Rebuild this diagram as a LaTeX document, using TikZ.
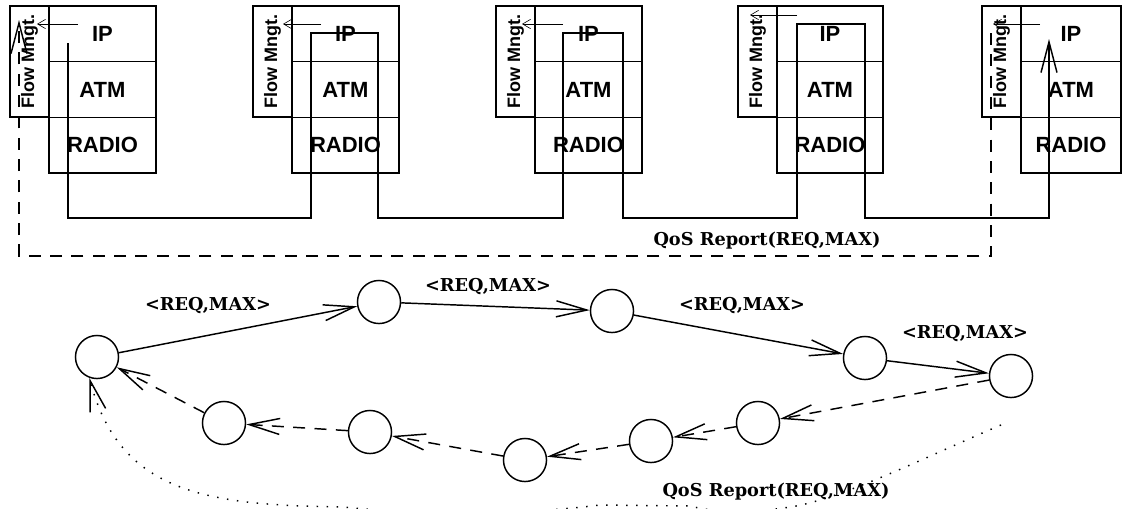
\documentclass[tikz,border=0pt]{standalone}
\usepackage{fontspec}
\newfontfamily\stackfont{Liberation Sans}
\newfontfamily\msgfont{DejaVu Serif}
\usetikzlibrary{arrows.meta,positioning}

\begin{document}
\begin{tikzpicture}[
    x=0.75pt, y=-0.75pt,
    line width=1.1pt,
    layer/.style={draw, outer sep=0pt, inner sep=0pt, minimum height=41.8pt, font=\stackfont\bfseries\fontsize{16.5}{18}\selectfont},
    flowbox/.style={draw, rotate=90, outer sep=0pt, inner sep=0pt, minimum width=83.3pt, minimum height=29.3pt, font=\stackfont\bfseries\fontsize{13.5}{15}\selectfont},
    hop/.style={draw, circle, inner sep=0pt, minimum size=32.3pt},
    msg/.style={font=\msgfont\bfseries\fontsize{13.3}{15}\selectfont},
    flow/.style={-{Straight Barb[length=23pt, width=12pt]}},
    ctrl/.style={-{Straight Barb[length=6pt, width=7pt]}, line width=0.45pt},
    report/.style={flow, dash pattern=on 9pt off 7pt},
    trace/.style={flow, line width=1.1pt, dash pattern=on 1.1pt off 6.4pt}
]
\useasboundingbox (0,0) rectangle (1122,508);

\foreach \n/\x/\w/\a/\b/\y in {1/10/107/78/37/24, 2/253/107/321/283/24, 3/496/107/563/522/24, 4/738/106/797/750/15, 5/982/100/1040/993/24} {
  \node[layer, minimum width=\w*0.75pt, anchor=north west] (ip\n) at (\x+39,6) {IP};
  \node[layer, minimum width=\w*0.75pt, below=0pt of ip\n] (atm\n) {ATM};
  \node[layer, minimum width=\w*0.75pt, below=0pt of atm\n] (radio\n) {RADIO};
  \node[flowbox, anchor=south east] (flow\n) at (ip\n.north west) {Flow Mngt.};
  \coordinate (ctlfrom\n) at (\a,\y);
  \coordinate (ctlto\n) at (\b,\y);
  \draw[ctrl] (ctlfrom\n) -- (ctlto\n);
}

\coordinate (pktsrc) at (68,43);
\coordinate (pktdst) at (1049,39);
\draw[flow] (pktsrc) -- (68,218) -- (311,218) -- (311,33) -- (378,33) -- (378,218) -- (563,218) -- (563,33) -- (623,33) -- (623,218) -- (797,218) -- (797,24) -- (865,24) -- (865,218) -- (1049,218) -- (pktdst);

\coordinate (rptfrom) at (991,33);
\coordinate (rptto) at (19,20);
\draw[report] (rptfrom) -- (991,256) -- (19,256) -- (rptto);
\node[msg] (rpttop) at (767,241) {QoS Report(REQ,MAX)};

\node[hop] (n1) at (97,357) {};
\node[hop] (n2) at (379,302) {};
\node[hop] (n3) at (612,311) {};
\node[hop] (n4) at (865,358) {};
\node[hop] (n5) at (1011,376) {};
\node[hop] (n6) at (758,423) {};
\node[hop] (n7) at (651,441) {};
\node[hop] (n8) at (525,460) {};
\node[hop] (n9) at (370,432) {};
\node[hop] (n10) at (224,423) {};

\draw[flow] (n1) -- (n2);
\draw[flow] (n2) -- (n3);
\draw[flow] (n3) -- (n4);
\draw[flow] (n4) -- (n5);
\draw[report] (n5) -- (n6);
\draw[report] (n6) -- (n7);
\draw[report] (n7) -- (n8);
\draw[report] (n8) -- (n9);
\draw[report] (n9) -- (n10);
\draw[report] (n10) -- (n1);

\node[msg] (req1) at (208,306) {<REQ,MAX>};
\node[msg] (req2) at (488,287) {<REQ,MAX>};
\node[msg] (req3) at (742,306) {<REQ,MAX>};
\node[msg] (req4) at (965,334) {<REQ,MAX>};

\coordinate (trfrom) at (1001,425);
\begin{scope}
  \clip (0,0) rectangle (1122,508);
  \draw[trace] (trfrom) .. controls (930,455) and (840,500) .. (790,507) .. controls (760,512) and (720,514) .. (690,506) -- (600,505) .. controls (520,515) and (420,515) .. (343,507) .. controls (210,505) and (120,495) .. (n1.250);
\end{scope}
\node[msg] (rptbot) at (776,492) {QoS Report(REQ,MAX)};
\end{tikzpicture}
\end{document}
